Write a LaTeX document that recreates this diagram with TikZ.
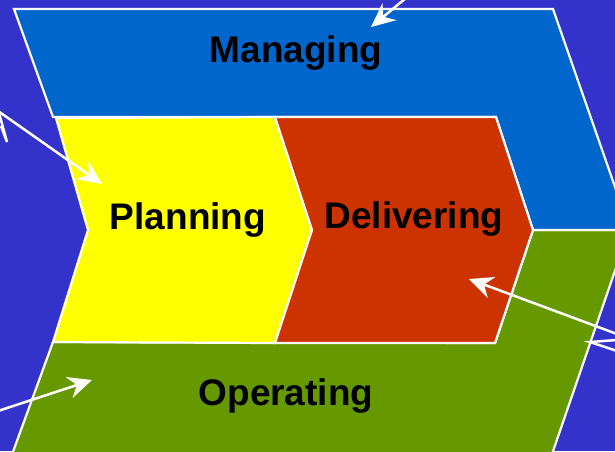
\documentclass[tikz,border=0pt]{standalone}
\usepackage{fontspec}
\setmainfont{Liberation Sans}
\usetikzlibrary{arrows.meta}
\definecolor{bgc}{HTML}{3333CC}
\definecolor{manc}{HTML}{0066CC}
\definecolor{plac}{HTML}{FFFF00}
\definecolor{delc}{HTML}{CC3300}
\definecolor{opec}{HTML}{669900}
\tikzset{
  panel/.style={draw=white, line width=2.2pt, line join=miter},
  lbl/.style={font=\fontsize{37}{40}\selectfont\bfseries, text=black, anchor=base, inner sep=0pt},
  pointer/.style={draw=white, line width=2.5pt, -{Stealth[length=24pt,width=22pt,inset=8pt]}},
  stub/.style={draw=white, line width=2.5pt, line join=miter}
}
\begin{document}
\begin{tikzpicture}[x=1pt,y=-1pt]
\useasboundingbox (0,0) rectangle (615,451);
\fill[bgc] (0,0) rectangle (615,451);
% Operating (green)
\path[panel, fill=opec] (53,342) -- (495,343) -- (533,230) -- (629,230) -- (550,460) -- (10,460) -- cycle;
% Managing (blue)
\path[panel, fill=manc] (14,9) -- (553,9) -- (630,230) -- (533,230) -- (496,117) -- (53,117) -- cycle;
% Planning (yellow)
\path[panel, fill=plac] (56,118) -- (275,117) -- (312,230) -- (275,343) -- (53,342) -- (88,230) -- cycle;
% Delivering (red)
\path[panel, fill=delc] (275,117) -- (496,117) -- (533,230) -- (495,343) -- (275,343) -- (312,230) -- cycle;

\node[lbl] (managing) at (296,62) {Managing};
\node[lbl] (planning) at (188,229) {Planning};
\node[lbl] (delivering) at (414,228) {Delivering};
\node[lbl] (operating) at (286,405) {Operating};

\coordinate (a1s) at (406,-2);
\coordinate (a1e) at (371,27);
\coordinate (a2s) at (-2,111);
\coordinate (a2e) at (102,184);
\coordinate (a3s) at (-2,411);
\coordinate (a3e) at (92,380);
\coordinate (a4s) at (617,334);
\coordinate (a4e) at (469,279);
\draw[pointer] (a1s) -- (a1e);
\draw[pointer] (a2s) -- (a2e);
\draw[pointer] (a3s) -- (a3e);
\draw[pointer] (a4s) -- (a4e);
% partial arrow heads at the picture edges
\coordinate (h1a) at (-1,113);
\coordinate (h1b) at (7,142);
\coordinate (h1c) at (1,126);
\draw[stub] (h1a) -- (h1b) -- (h1c);
\coordinate (h2a) at (617,340);
\coordinate (h2b) at (590,342);
\coordinate (h2c) at (617,351);
\draw[stub] (h2a) -- (h2b) -- (h2c);
\end{tikzpicture}
\end{document}
